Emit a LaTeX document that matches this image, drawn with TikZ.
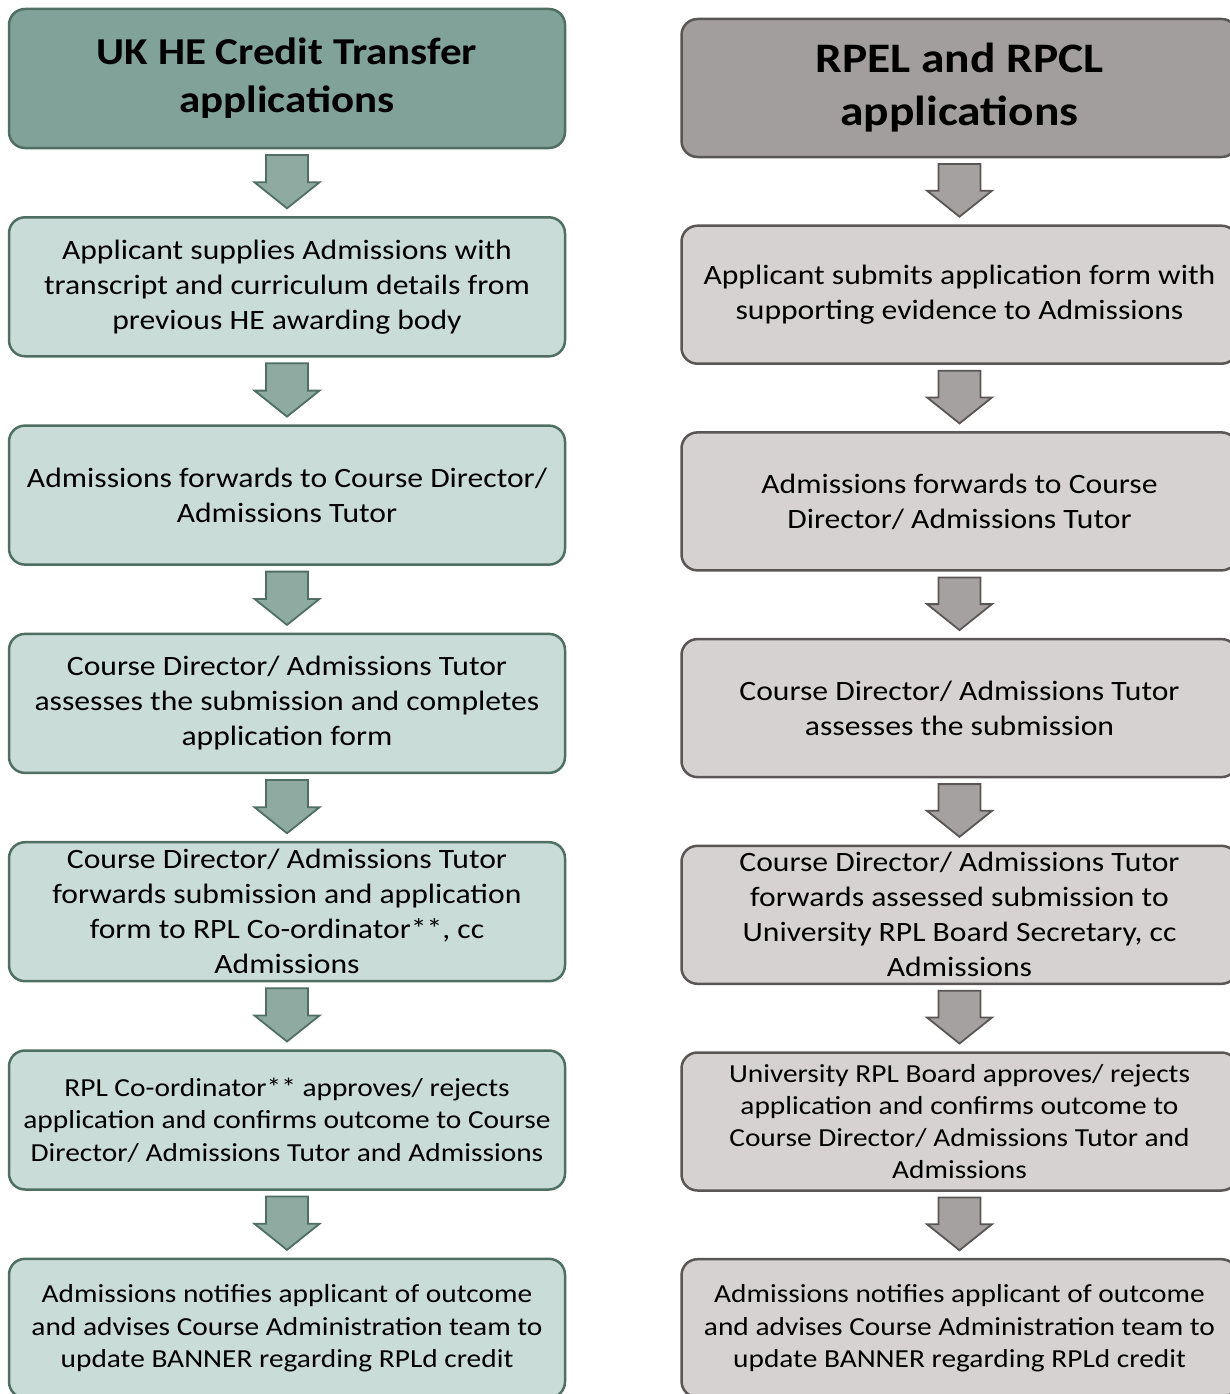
\documentclass[tikz,border=0pt]{standalone}
\usepackage{fontspec}
\setmainfont{Carlito}[FakeStretch=1.13]
\usetikzlibrary{positioning,calc}
\definecolor{SageHead}{HTML}{80A298}
\definecolor{SageBox}{HTML}{C9DCD7}
\definecolor{SageArrow}{HTML}{8FAAA1}
\definecolor{SageLine}{HTML}{4F6F63}
\definecolor{TaupeHead}{HTML}{A39E9E}
\definecolor{TaupeBox}{HTML}{D7D2D2}
\definecolor{TaupeArrow}{HTML}{A6A1A1}
\definecolor{TaupeLine}{HTML}{5B5656}

% block arrow from the bottom of one box to the top of the next
\newcommand{\blockarrow}[3]{%
  \draw[#3] ($(#1.south)+(-21,-7)$) -- ($(#1.south)+(21,-7)$)
    -- ($(#2.north)+(21,35)$) -- ($(#2.north)+(32.5,35)$)
    -- ($(#2.north)+(0,9)$) -- ($(#2.north)+(-32.5,35)$)
    -- ($(#2.north)+(-21,35)$) -- cycle;}

\begin{document}
\begin{tikzpicture}[x=1pt,y=1pt,
  box/.style={draw,line width=2.5pt,rounded corners=16pt,minimum width=556pt,
    minimum height=139pt,inner ysep=0pt,outer sep=0pt,align=center,
    font=\fontsize{28}{35}\selectfont},
  sagehead/.style={box,fill=SageHead,draw=SageLine,font=\bfseries\fontsize{38}{48}\selectfont},
  sagebox/.style={box,fill=SageBox,draw=SageLine},
  taupehead/.style={box,fill=TaupeHead,draw=TaupeLine,minimum height=138pt,
    font=\bfseries\fontsize{42}{53}\selectfont},
  taupebox/.style={box,fill=TaupeBox,draw=TaupeLine,minimum height=138pt},
  small/.style={font=\fontsize{26}{32.5}\selectfont},
  sagearrow/.style={fill=SageArrow,draw=SageLine,line width=1.8pt,line join=miter},
  taupearrow/.style={fill=TaupeArrow,draw=TaupeLine,line width=1.8pt,line join=miter}]
  \useasboundingbox (0,0) rectangle (1229,-1394);

  % UK HE credit transfer route
  \node[sagehead] (lt) at (287,-78.5) {UK HE Credit Transfer\\applications};
  \node[sagebox,below=69.3pt of lt] (l1) {Applicant supplies Admissions with\\transcript and curriculum details from\\previous HE awarding body};
  \node[sagebox,below=69.3pt of l1] (l2) {Admissions forwards to Course Director/\\Admissions Tutor};
  \node[sagebox,below=69.3pt of l2] (l3) {Course Director/ Admissions Tutor\\assesses the submission and completes\\application form};
  \node[sagebox,below=69.3pt of l3] (l4) {Course Director/ Admissions Tutor\\forwards submission and application\\form to RPL Co-ordinator**, cc\\Admissions};
  \node[sagebox,small,below=69.3pt of l4] (l5) {RPL Co-ordinator** approves/ rejects\\application and confirms outcome to Course\\Director/ Admissions Tutor and Admissions};
  \node[sagebox,small,below=69.3pt of l5] (l6) {Admissions notifies applicant of outcome\\and advises Course Administration team to\\update BANNER regarding RPLd credit};

  % RPEL and RPCL route
  \node[taupehead] (rt) at (959.5,-88) {RPEL and RPCL\\applications};
  \node[taupebox,below=68.7pt of rt] (r1) {Applicant submits application form with\\supporting evidence to Admissions};
  \node[taupebox,below=68.7pt of r1] (r2) {Admissions forwards to Course\\Director/ Admissions Tutor};
  \node[taupebox,below=68.7pt of r2] (r3) {Course Director/ Admissions Tutor\\assesses the submission};
  \node[taupebox,below=68.7pt of r3] (r4) {Course Director/ Admissions Tutor\\forwards assessed submission to\\University RPL Board Secretary, cc\\Admissions};
  \node[taupebox,below=68.7pt of r4,font=\fontsize{26}{32}\selectfont] (r5) {University RPL Board approves/ rejects\\application and confirms outcome to\\Course Director/ Admissions Tutor and\\Admissions};
  \node[taupebox,small,below=68.7pt of r5] (r6) {Admissions notifies applicant of outcome\\and advises Course Administration team to\\update BANNER regarding RPLd credit};

  \foreach \a/\b in {lt/l1,l1/l2,l2/l3,l3/l4,l4/l5,l5/l6}{
    \blockarrow{\a}{\b}{sagearrow}
  }
  \foreach \a/\b in {rt/r1,r1/r2,r2/r3,r3/r4,r4/r5,r5/r6}{
    \blockarrow{\a}{\b}{taupearrow}
  }
\end{tikzpicture}
\end{document}
